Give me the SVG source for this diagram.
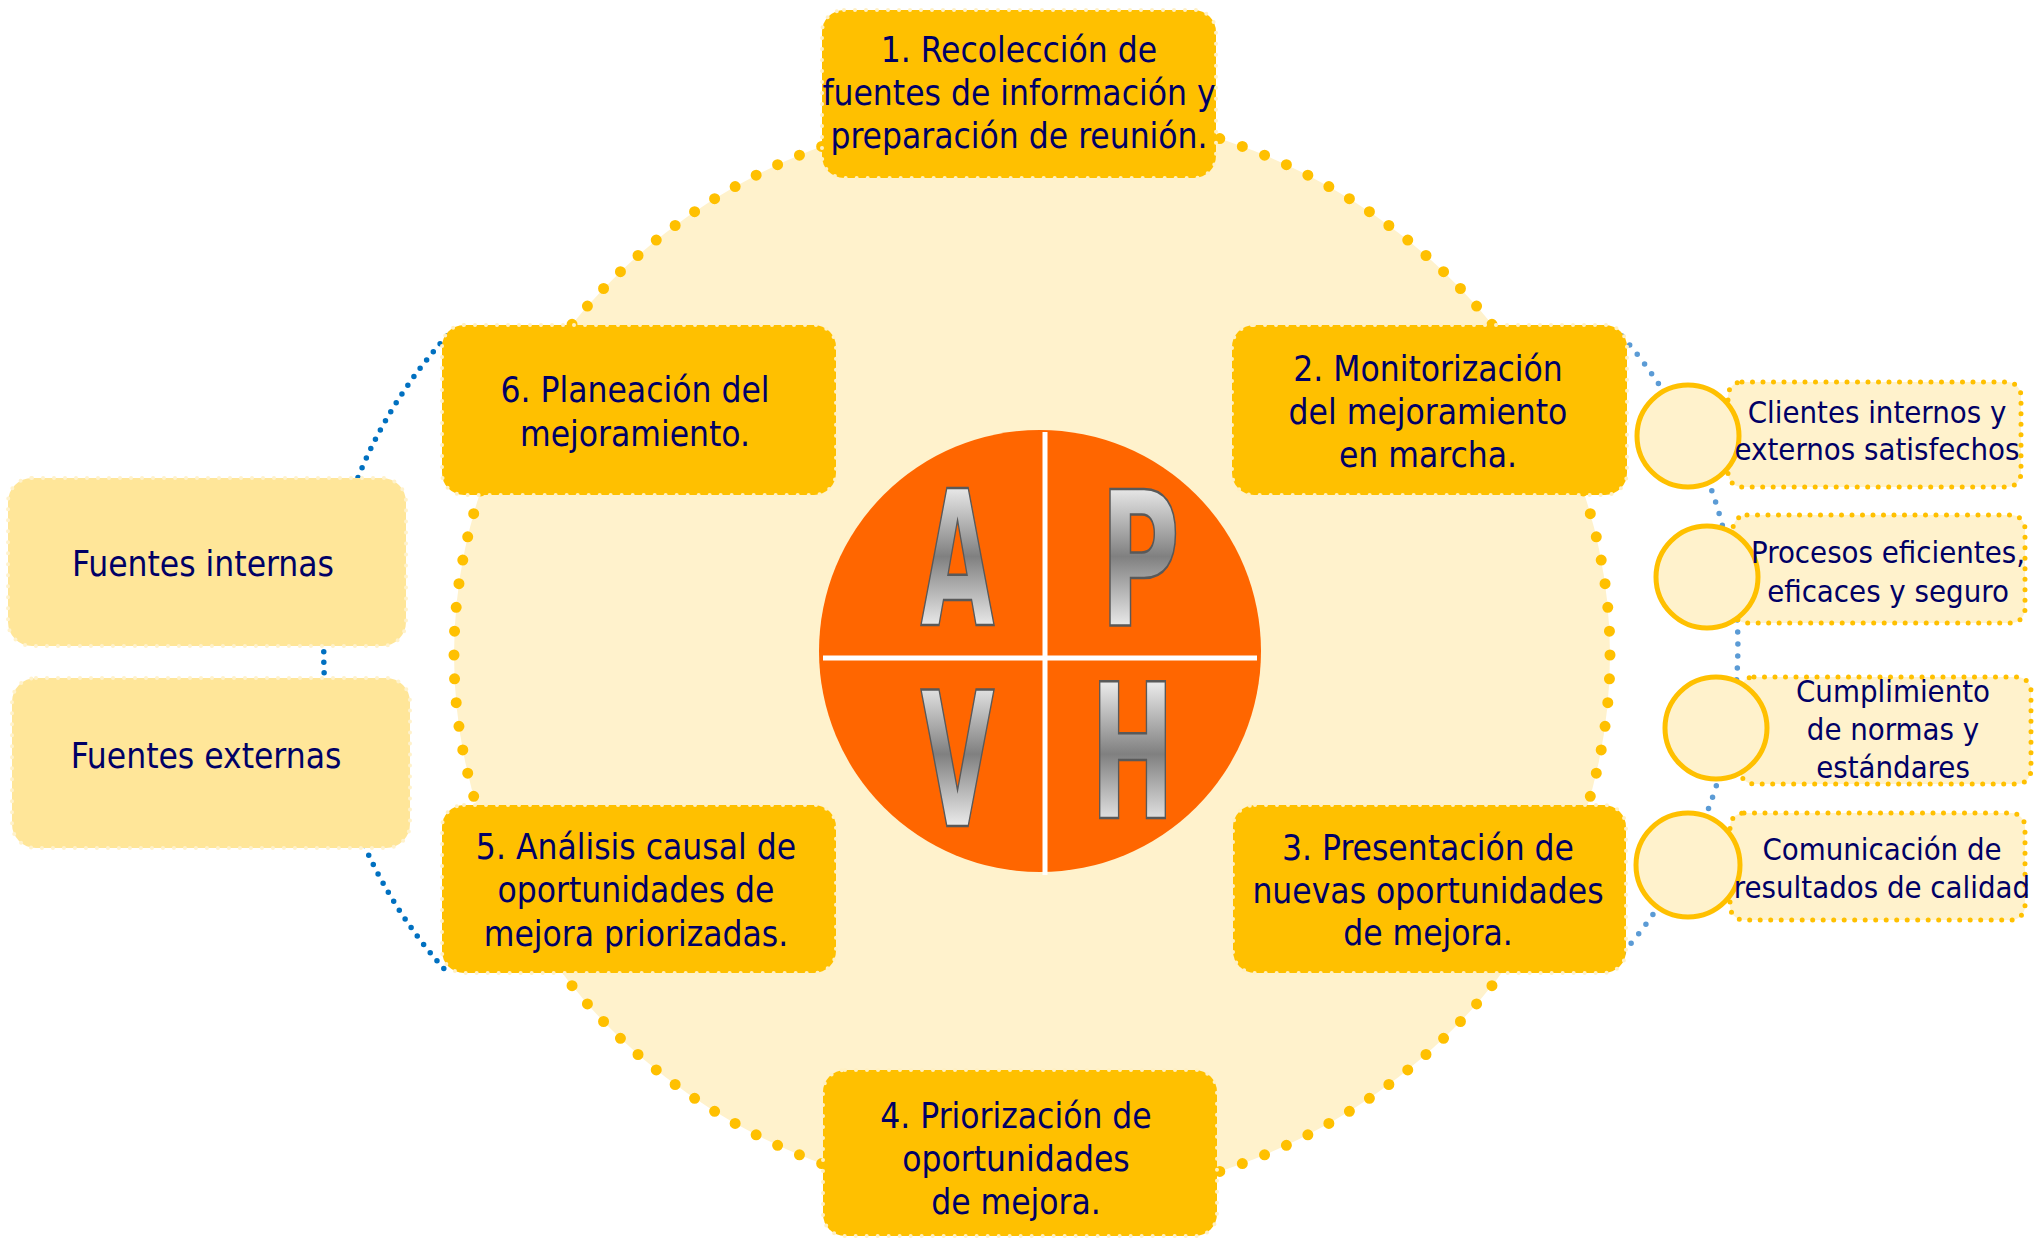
<svg xmlns="http://www.w3.org/2000/svg" width="2043" height="1238" viewBox="0 0 2043 1238">
<defs>
<style>
.t{font-family:"DejaVu Sans Condensed","DejaVu Sans","Liberation Sans",sans-serif;font-stretch:condensed;fill:#000066;text-anchor:middle}
.tm{font-size:35px}
.ts{font-size:30.8px}
.mainbox{fill:#FFC000;stroke:#FFF0C4;stroke-width:4;stroke-dasharray:0 11;stroke-linecap:round}
.srcbox{fill:#FFE699;stroke:#FFF2CC;stroke-width:4;stroke-dasharray:0 11;stroke-linecap:round}
.resbox{fill:#FFF2CC;stroke:#FFC000;stroke-width:5;stroke-dasharray:0 10.5;stroke-linecap:round}
.bullet{fill:#FFF2CC;stroke:#FFC000;stroke-width:5}
.letter{font-family:"DejaVu Sans","Liberation Sans",sans-serif;font-weight:bold;font-size:188px;stroke:#595959;stroke-width:2.5;text-anchor:middle}
</style>
<linearGradient id="gTop" gradientUnits="userSpaceOnUse" x1="0" y1="488" x2="0" y2="625">
<stop offset="0" stop-color="#E8E8E8"/><stop offset="0.5" stop-color="#808080"/><stop offset="1" stop-color="#E8E8E8"/>
</linearGradient>
<linearGradient id="gBot" gradientUnits="userSpaceOnUse" x1="0" y1="684" x2="0" y2="824">
<stop offset="0" stop-color="#E8E8E8"/><stop offset="0.5" stop-color="#808080"/><stop offset="1" stop-color="#E8E8E8"/>
</linearGradient>
</defs>
<rect width="2043" height="1238" fill="#FFFFFF"/>

<g id="cycle-ring">
<ellipse cx="1032" cy="655" rx="578" ry="546" fill="#FFF2CC" stroke="#FFC000" stroke-width="11" stroke-linecap="round" stroke-dasharray="0 1" pathLength="148"/>
</g>

<g id="connectors" fill="none" stroke-linecap="round">
<path d="M 447 336 A 472 472 0 0 0 446 971" stroke="#0070C0" stroke-width="5.5" stroke-dasharray="0 10.5"/>
<path d="M 1622 336 A 470 470 0 0 1 1614 963" stroke="#5B9BD5" stroke-width="5.5" stroke-dasharray="0 12"/>
</g>

<g id="pdca">
<circle cx="1040" cy="651" r="221" fill="#FF6600"/>
<line x1="1045" y1="432" x2="1045" y2="875" stroke="#FFFFFF" stroke-width="5"/>
<line x1="823" y1="658" x2="1257" y2="658" stroke="#FFFFFF" stroke-width="5"/>
<text class="letter"><tspan x="957.5" y="625" fill="url(#gTop)" textLength="74" lengthAdjust="spacingAndGlyphs">A</tspan><tspan x="1140" y="625" fill="url(#gTop)" textLength="80" lengthAdjust="spacingAndGlyphs">P</tspan><tspan x="957.5" y="826" fill="url(#gBot)" textLength="74" lengthAdjust="spacingAndGlyphs">V</tspan><tspan x="1132.5" y="818" fill="url(#gBot)" textLength="84" lengthAdjust="spacingAndGlyphs">H</tspan></text>
</g>

<g id="step1">
<rect class="mainbox" x="822" y="10" width="394" height="168" rx="22"/>
<text class="t tm" x="1019" y="62">1. Recolección de</text>
<text class="t tm" x="1019" y="105">fuentes de información y</text>
<text class="t tm" x="1019" y="148">preparación de reunión.</text>
</g>
<g id="step2">
<rect class="mainbox" x="1232" y="325" width="395" height="170" rx="22"/>
<text class="t tm" x="1428" y="381">2. Monitorización</text>
<text class="t tm" x="1428" y="424">del mejoramiento</text>
<text class="t tm" x="1428" y="467">en marcha.</text>
</g>
<g id="step3">
<rect class="mainbox" x="1233" y="805" width="393" height="168" rx="22"/>
<text class="t tm" x="1428" y="860">3. Presentación de</text>
<text class="t tm" x="1428" y="903">nuevas oportunidades</text>
<text class="t tm" x="1428" y="945">de mejora.</text>
</g>
<g id="step4">
<rect class="mainbox" x="823" y="1070" width="394" height="166" rx="22"/>
<text class="t tm" x="1016" y="1128">4. Priorización de</text>
<text class="t tm" x="1016" y="1171">oportunidades</text>
<text class="t tm" x="1016" y="1214">de mejora.</text>
</g>
<g id="step5">
<rect class="mainbox" x="442" y="805" width="394" height="168" rx="22"/>
<text class="t tm" x="636" y="859">5. Análisis causal de</text>
<text class="t tm" x="636" y="902">oportunidades de</text>
<text class="t tm" x="636" y="946">mejora priorizadas.</text>
</g>
<g id="step6">
<rect class="mainbox" x="442" y="325" width="394" height="170" rx="22"/>
<text class="t tm" x="635" y="402">6. Planeación del</text>
<text class="t tm" x="635" y="446">mejoramiento.</text>
</g>

<g id="fuentes-internas">
<rect class="srcbox" x="8" y="478" width="398" height="168" rx="24"/>
<text class="t tm" x="203" y="576">Fuentes internas</text>
</g>
<g id="fuentes-externas">
<rect class="srcbox" x="12" y="678" width="398" height="170" rx="24"/>
<text class="t tm" x="206" y="768">Fuentes externas</text>
</g>

<g id="resultado-clientes">
<rect class="resbox" x="1728" y="382" width="293" height="105" rx="14"/>
<circle class="bullet" cx="1688" cy="436" r="51"/>
<text class="t ts" x="1877" y="423">Clientes internos y</text>
<text class="t ts" x="1877" y="460">externos satisfechos</text>
</g>
<g id="resultado-procesos">
<rect class="resbox" x="1733" y="515" width="292" height="108" rx="14"/>
<circle class="bullet" cx="1707" cy="577" r="51"/>
<text class="t ts" x="1888" y="563">Procesos eficientes,</text>
<text class="t ts" x="1888" y="602">eficaces y seguro</text>
</g>
<g id="resultado-normas">
<rect class="resbox" x="1740" y="677" width="291" height="107" rx="14"/>
<circle class="bullet" cx="1716" cy="728" r="51"/>
<text class="t ts" x="1893" y="702">Cumplimiento</text>
<text class="t ts" x="1893" y="740">de normas y</text>
<text class="t ts" x="1893" y="778">estándares</text>
</g>
<g id="resultado-comunicacion">
<rect class="resbox" x="1730" y="813" width="295" height="107" rx="14"/>
<circle class="bullet" cx="1688" cy="865" r="52"/>
<text class="t ts" x="1882" y="860">Comunicación de</text>
<text class="t ts" x="1882" y="898">resultados de calidad</text>
</g>
</svg>
